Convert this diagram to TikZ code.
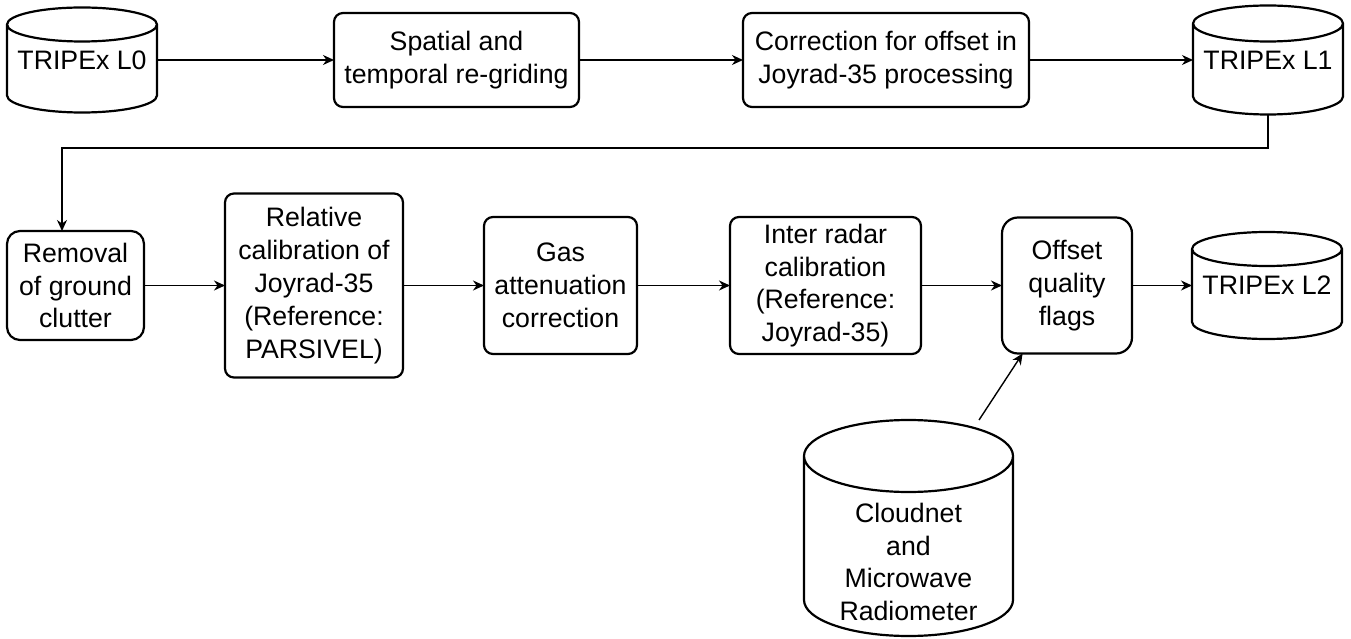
\documentclass[tikz,border=0pt]{standalone}
\usepackage{fontspec}
\setmainfont{Liberation Sans}
\usetikzlibrary{arrows.meta,calc}
\newcommand\lbl{\fontsize{26.7}{32.8}\selectfont}
\tikzset{
  boxline/.style={line width=2.2pt, line join=round},
  proc/.style={draw, boxline, rounded corners=9pt, align=center, inner sep=0pt, outer sep=0pt, font=\lbl},
  db/.style={inner sep=0pt, outer sep=0pt, align=center, font=\lbl},
  txt/.style={inner sep=0pt, align=center, font=\lbl},
  arr/.style={line width=1.4pt, -{Stealth[length=11pt,width=10pt,inset=3.5pt]}},
}
\newcommand\cylshape[2]{%
  \draw[boxline] let \p1=(#1.north west), \p2=(#1.south east), \n1={(\x2-\x1)/2} in
    (\x1,\y1-#2) -- (\x1,\y2+#2)
    arc[start angle=180, end angle=360, x radius=\n1, y radius=#2]
    -- (\x2,\y1-#2)
    arc[start angle=0, end angle=360, x radius=\n1, y radius=#2];
}
\begin{document}
\begin{tikzpicture}[x=1pt,y=1pt]
\useasboundingbox (0,0) rectangle (1351,638);
% top row
\node[db, minimum width=150pt, minimum height=105pt] (L0) at (82,578) {TRIPEx L0};
\cylshape{L0}{17pt}
\node[proc, minimum width=245pt, minimum height=94pt] (sp) at (456.5,578) {Spatial and\\temporal re-griding};
\node[proc, minimum width=286pt, minimum height=94pt] (cor) at (886,578) {Correction for offset in\\Joyrad-35 processing};
\node[db, minimum width=150pt, minimum height=109pt] (L1) at (1268,578) {TRIPEx L1};
\cylshape{L1}{18pt}
% second row
\node[proc, rounded corners=13pt, minimum width=137pt, minimum height=109pt] (rem) at (75.5,352.5) {Removal\\of ground\\clutter};
\node[proc, minimum width=178pt, minimum height=184pt] (rel) at (314,352.5) {Relative\\calibration of\\Joyrad-35\\(Reference:\\PARSIVEL)};
\node[proc, minimum width=153pt, minimum height=137pt] (gas) at (560.5,352.5) {Gas\\attenuation\\correction};
\node[proc, minimum width=191pt, minimum height=137pt] (inter) at (825.5,352.5) {Inter radar\\calibration\\(Reference:\\Joyrad-35)};
\node[proc, rounded corners=16pt, minimum width=130pt, minimum height=136pt] (off) at (1067,352.5) {Offset\\quality\\flags};
\node[db, minimum width=150pt, minimum height=107pt] (L2) at (1267,352.5) {TRIPEx L2};
\cylshape{L2}{17pt}
% bottom cylinder
\node[db, minimum width=209pt, minimum height=216pt] (cloud) at (908.5,110) {};
\cylshape{cloud}{36pt}
\node[txt] (cloudtxt) at (908.5,76) {Cloudnet\\and\\Microwave\\Radiometer};
% connectors
\draw[arr] (L0.east) -- (sp.west);
\draw[arr] (sp.east) -- (cor.west);
\draw[arr] (cor.east) -- (L1.west);
\coordinate (bend) at (62,490);
\draw[arr] (L1.south) |- (bend) -- (bend |- rem.north);
\draw[arr] (rem.east) -- (rel.west);
\draw[arr] (rel.east) -- (gas.west);
\draw[arr] (gas.east) -- (inter.west);
\draw[arr] (inter.east) -- (off.west);
\draw[arr] (off.east) -- (L2.west);
\draw[arr] (cloud) -- (off);
\end{tikzpicture}
\end{document}
